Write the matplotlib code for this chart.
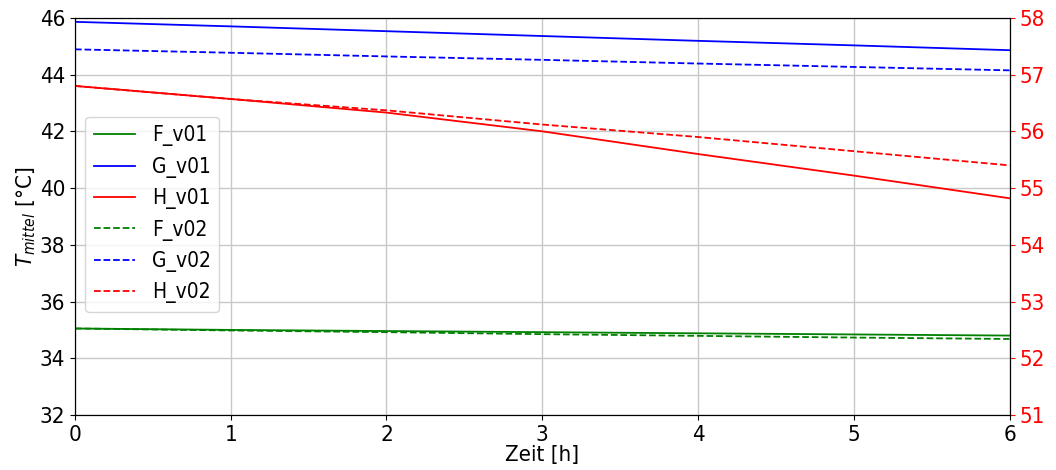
import matplotlib
matplotlib.use("Agg")
import matplotlib.pyplot as plt

plt.rcParams.update({
    "font.family":  "DejaVu Sans",
    "font.stretch": "condensed",
    "font.size":    16,
})

# ── Data ─────────────────────────────────────────────────────────────────────
zeit = [0, 1, 2, 3, 4, 5, 6]

F_v01 = [35.05, 35.0, 34.96, 34.92, 34.88, 34.84, 34.80]
G_v01 = [45.86, 45.70, 45.53, 45.36, 45.19, 45.03, 44.86]
H_v01 = [56.80, 56.57, 56.33, 56.00, 55.60, 55.22, 54.82]

F_v02 = [35.05, 34.98, 34.92, 34.85, 34.79, 34.73, 34.68]
G_v02 = [44.89, 44.77, 44.64, 44.52, 44.39, 44.27, 44.15]
H_v02 = [56.80, 56.57, 56.37, 56.12, 55.90, 55.65, 55.40]

# ── Figure ───────────────────────────────────────────────────────────────────
fig, ax = plt.subplots(figsize=(10.56, 4.70), dpi=100)
fig.subplots_adjust(left=0.071, right=0.956, top=0.962, bottom=0.117)
ax2 = ax.twinx()

l1, = ax.plot(zeit, F_v01, color="green", lw=1.3, label="F_v01")
l2, = ax.plot(zeit, G_v01, color="blue", lw=1.3, label="G_v01")
l3, = ax2.plot(zeit, H_v01, color="red", lw=1.3, label="H_v01")
l4, = ax.plot(zeit, F_v02, color="green", lw=1.3, ls="--", label="F_v02")
l5, = ax.plot(zeit, G_v02, color="blue", lw=1.3, ls="--", label="G_v02")
l6, = ax2.plot(zeit, H_v02, color="red", lw=1.3, ls="--", label="H_v02")

ax.set_xlim(0, 6)
ax.set_ylim(32, 46)
ax.set_yticks(range(32, 47, 2))
ax2.set_ylim(51, 58)
ax2.set_yticks(range(51, 59))
ax2.tick_params(axis="y", colors="red")
ax2.spines["right"].set_color("black")

ax.grid(True, color="#c8c8c8", linewidth=1.0)
ax.set_xlabel("Zeit [h]", labelpad=0)
ax.set_ylabel(r"$T_{mittel}$ [°C]", labelpad=1)

lines = [l1, l2, l3, l4, l5, l6]
ax.legend(lines, [l.get_label() for l in lines], loc="center left",
          bbox_to_anchor=(0.0, 0.505), fontsize=15, framealpha=0.8)

fig.savefig("out.png", dpi=100)
